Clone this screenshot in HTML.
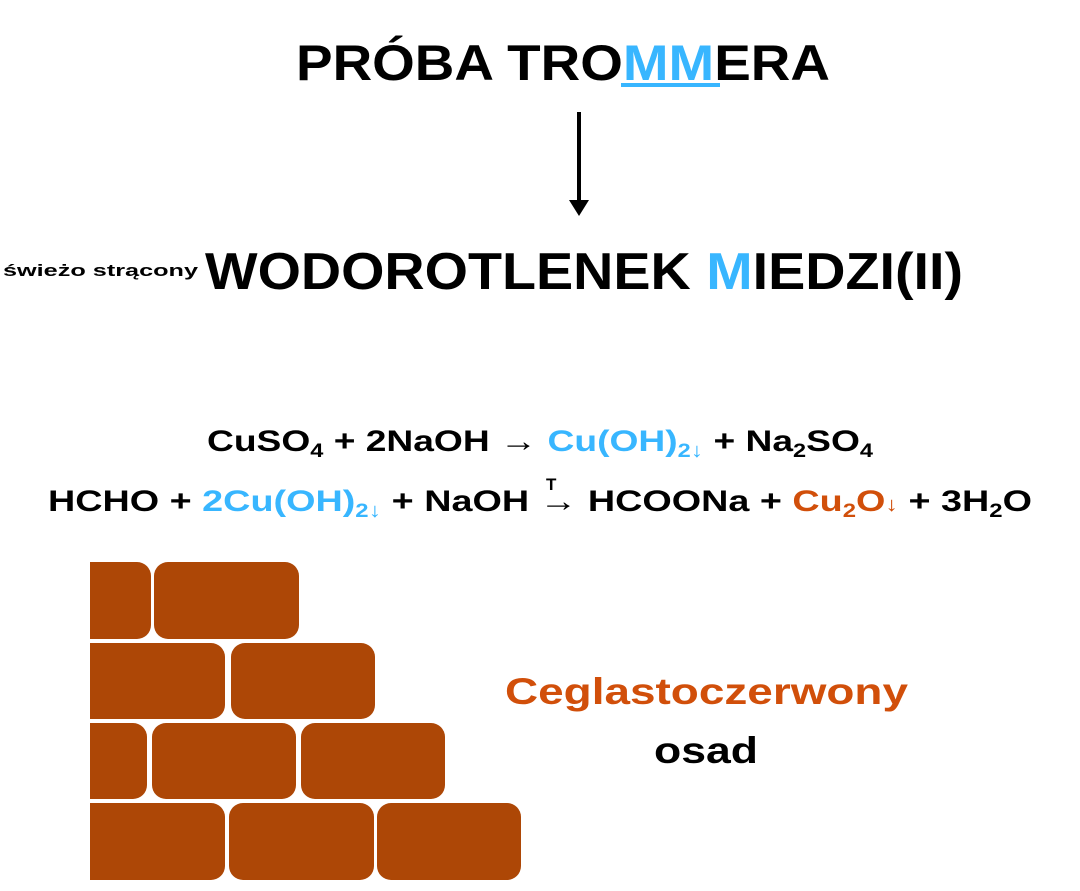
<!DOCTYPE html>
<html><head><meta charset="utf-8"><style>
html,body{margin:0;padding:0;background:#fff;}
svg{display:block;}
text{font-family:"Liberation Sans",sans-serif;font-weight:bold;}
</style></head><body>
<svg width="1080" height="891" viewBox="0 0 1080 891" xmlns="http://www.w3.org/2000/svg">
<text x="296" y="80" font-size="50" textLength="534" lengthAdjust="spacingAndGlyphs">PRÓBA TRO<tspan fill="#38B6FF">MM</tspan>ERA</text>
<rect x="621" y="83" width="99" height="4" fill="#38B6FF"/>
<line x1="579" y1="112" x2="579" y2="202" stroke="#000" stroke-width="4"/>
<polygon points="569,200 589,200 579,216" fill="#000"/>
<text x="3" y="276" font-size="17" textLength="195" lengthAdjust="spacingAndGlyphs">świeżo strącony</text>
<text x="205" y="289" font-size="52" textLength="758" lengthAdjust="spacingAndGlyphs">WODOROTLENEK <tspan fill="#38B6FF">M</tspan>IEDZI(II)</text>
<text x="207" y="451" font-size="30" textLength="666" lengthAdjust="spacingAndGlyphs">CuSO<tspan font-size="19" dy="6">4</tspan><tspan dy="-6"> + 2NaOH → </tspan><tspan fill="#38B6FF">Cu(OH)<tspan font-size="19" dy="6">2</tspan><tspan font-size="20">↓</tspan></tspan><tspan dy="-6"> + Na</tspan><tspan font-size="19" dy="6">2</tspan><tspan dy="-6">SO</tspan><tspan font-size="19" dy="6">4</tspan></text>
<text x="48" y="511" font-size="30" textLength="984" lengthAdjust="spacingAndGlyphs">HCHO + <tspan fill="#38B6FF">2Cu(OH)<tspan font-size="19" dy="6">2</tspan><tspan font-size="20">↓</tspan></tspan><tspan dy="-6"> + NaOH → HCOONa + </tspan><tspan fill="#D14F0A">Cu<tspan font-size="19" dy="6">2</tspan><tspan dy="-6">O</tspan><tspan font-size="20">↓</tspan></tspan><tspan> + 3H</tspan><tspan font-size="19" dy="6">2</tspan><tspan dy="-6">O</tspan></text>
<text x="546" y="490" font-size="17">T</text>
<g fill="#AD4706">
<path d="M90 562 H137 a14 14 0 0 1 14 14 V625 a14 14 0 0 1 -14 14 H90 Z"/>
<rect x="154" y="562" width="145" height="77" rx="14"/>
<path d="M90 643 H211 a14 14 0 0 1 14 14 V705 a14 14 0 0 1 -14 14 H90 Z"/>
<rect x="231" y="643" width="144" height="76" rx="14"/>
<path d="M90 723 H133 a14 14 0 0 1 14 14 V785 a14 14 0 0 1 -14 14 H90 Z"/>
<rect x="152" y="723" width="144" height="76" rx="14"/>
<rect x="301" y="723" width="144" height="76" rx="14"/>
<path d="M90 803 H211 a14 14 0 0 1 14 14 V866 a14 14 0 0 1 -14 14 H90 Z"/>
<rect x="229" y="803" width="145" height="77" rx="14"/>
<rect x="377" y="803" width="144" height="77" rx="14"/>
</g>
<text x="505" y="704" font-size="37" fill="#D14F0A" textLength="403" lengthAdjust="spacingAndGlyphs">Ceglastoczerwony</text>
<text x="654" y="763" font-size="37" textLength="104" lengthAdjust="spacingAndGlyphs">osad</text>
</svg>
</body></html>
